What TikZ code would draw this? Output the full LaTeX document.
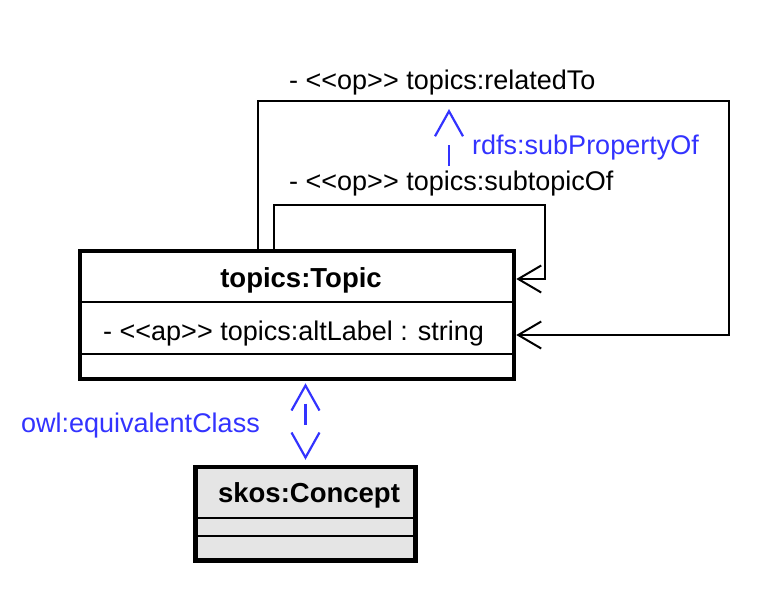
\documentclass[tikz,border=0pt]{standalone}
\usepackage{fontspec}
\newfontfamily\umlfont{Liberation Sans}
\usetikzlibrary{arrows.meta}
\definecolor{relblue}{RGB}{51,51,255}
\definecolor{ctgray}{RGB}{229,229,229}
\begin{document}
\begin{tikzpicture}[x=1pt,y=-1pt,
  every node/.style={font=\umlfont\fontsize{27}{31}\selectfont, inner sep=0pt},
  titletext/.style={font=\umlfont\bfseries\fontsize{27.5}{31}\selectfont},
  classbox/.style={draw, line width=4.5pt, rectangle, inner sep=0pt},
  divider/.style={line width=2pt},
  assoc/.style={line width=2pt, -{Straight Barb[length=23pt,width=27pt]}},
  relation/.style={draw=relblue, line width=2.2pt},
  reltext/.style={text=relblue},
  barbtip/.tip={Straight Barb[length=25pt,width=28pt]}
]
\useasboundingbox (0,0) rectangle (767,606);

% classes
\node[classbox, minimum width=434pt, minimum height=128pt] (topic) at (297,315) {};
\node[classbox, fill=ctgray, minimum width=220pt, minimum height=93.5pt] (concept) at (305.5,513.75) {};

\node[titletext] (topictitle) at (301,280) {topics:Topic};
\node[anchor=west] (altlabel) at (103,334) {- <<ap>> topics:altLabel : string};
\draw[divider] (topic.west |- 0,302) -- (topic.east |- 0,302);
\draw[divider] (topic.west |- 0,354) -- (topic.east |- 0,354);

\node[titletext] (concepttitle) at (309,495) {skos:Concept};
\draw[divider] (concept.west |- 0,518) -- (concept.east |- 0,518);
\draw[divider] (concept.west |- 0,536) -- (concept.east |- 0,536);

% self associations
\draw[assoc] ([xshift=-23pt]topic.north) |- (545,205) |- (topic.east |- 0,279);
\draw[assoc] ([xshift=-39pt]topic.north) |- (729,101) |- (topic.east |- 0,335);
\node[anchor=west] (lrel) at (289,83) {- <<op>> topics:relatedTo};
\node[anchor=west] (lsub) at (289,184) {- <<op>> topics:subtopicOf};

% subPropertyOf
\coordinate (spsrc) at (449,166);
\coordinate (sptgt) at (449,109);
\draw[relation, dash pattern=on 21pt off 100pt, -barbtip] (spsrc) -- (sptgt);
\node[anchor=west, reltext] (lsp) at (472,148) {rdfs:subPropertyOf};

% equivalentClass
\draw[relation, dash pattern=on 0pt off 17pt on 21pt off 100pt, barbtip-barbtip,
  shorten <=2pt, shorten >=5pt] (topic.south -| concept.north) -- (concept.north);
\node[anchor=east, reltext] (leq) at (260,426) {owl:equivalentClass};
\end{tikzpicture}
\end{document}
